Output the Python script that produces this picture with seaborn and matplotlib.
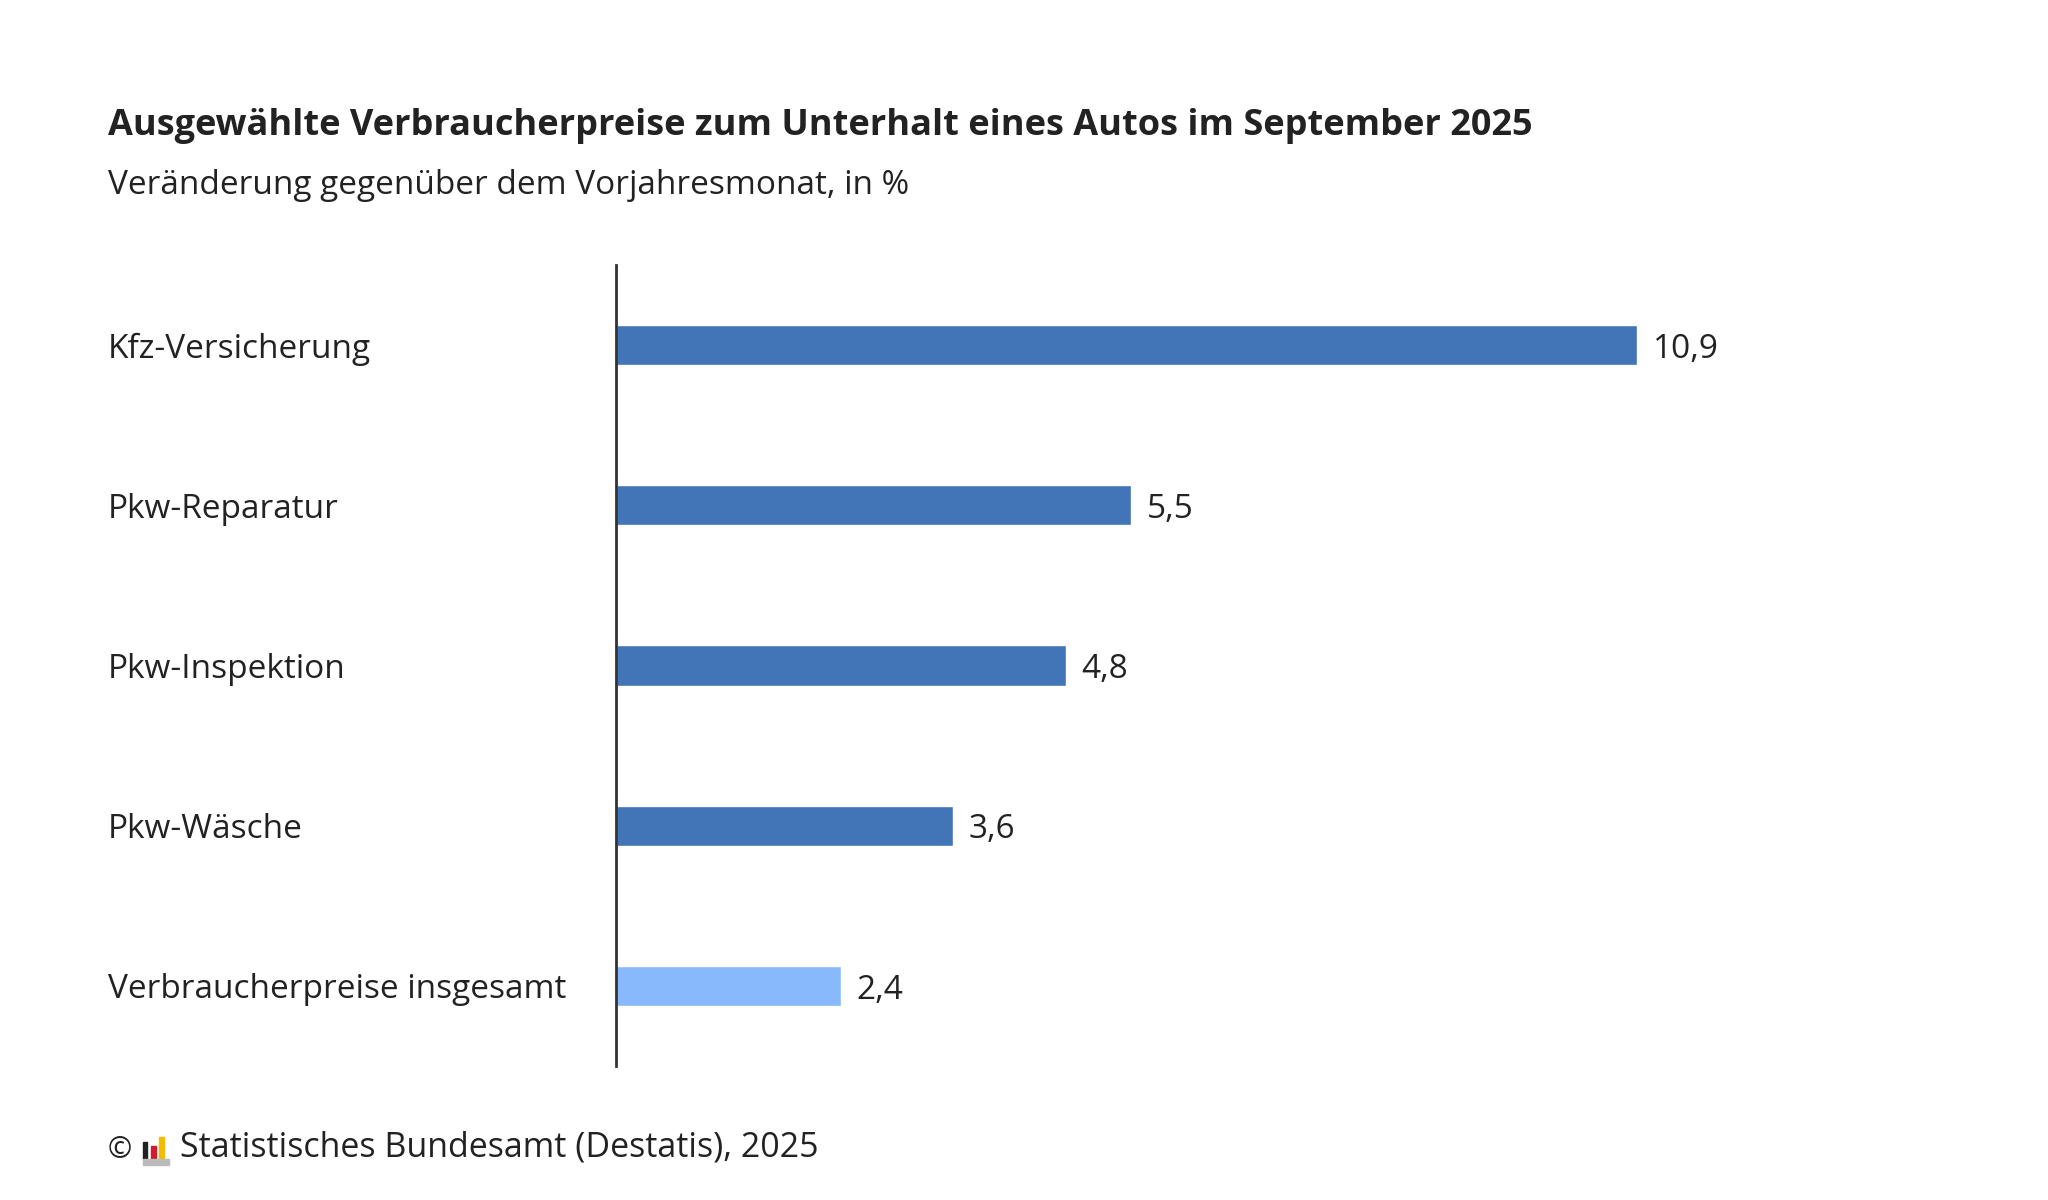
import matplotlib
matplotlib.use("Agg")
import matplotlib.pyplot as plt
from matplotlib.patches import Rectangle
import pandas as pd
import seaborn as sns

categories = ["Kfz-Versicherung", "Pkw-Reparatur", "Pkw-Inspektion", "Pkw-Wäsche",
              "Verbraucherpreise insgesamt"]
values = [10.9, 5.5, 4.8, 3.6, 2.4]
groups = ["detail", "detail", "detail", "detail", "total"]
palette = {"detail": "#4274B8", "total": "#88B9FD"}

title = "Ausgewählte Verbraucherpreise zum Unterhalt eines Autos im September 2025"
subtitle = "Veränderung gegenüber dem Vorjahresmonat, in %"
source = "Statistisches Bundesamt (Destatis), 2025"

sns.set_theme(style="white")
plt.rcParams["font.family"] = ["Open Sans", "DejaVu Sans"]
txt = "#222222"
fs = 24

df = pd.DataFrame({"cat": categories, "val": values, "grp": groups})

x0_ax = 616
fig = plt.figure(figsize=(20.48, 12), dpi=100)
ax = fig.add_axes([x0_ax / 2048, 1 - 1066 / 1200, (1960 - x0_ax) / 2048, (1066 - 265) / 1200])
sns.barplot(data=df, y="cat", x="val", hue="grp", palette=palette, orient="h",
            width=0.25, dodge=False, legend=False, ax=ax, saturation=1)

ax.set_xlim(0, (1960 - x0_ax) / 93.7)
ax.set_ylim(4.5, -0.5)
ax.set_xlabel("")
ax.set_ylabel("")
ax.set_xticks([])
for s in ["top", "right", "bottom"]:
    ax.spines[s].set_visible(False)
ax.spines["left"].set_color("#333333")
ax.spines["left"].set_linewidth(2)
ax.tick_params(axis="y", length=0, pad=(x0_ax - 108) * 0.72, labelsize=fs, labelcolor=txt)
for lab in ax.get_yticklabels():
    lab.set_horizontalalignment("left")

for cont in ax.containers:
    labels = [f"{v:.1f}".replace(".", ",") for v in cont.datavalues]
    anns = ax.bar_label(cont, labels=labels, padding=11, fontsize=fs, color=txt)
    for a in anns:
        a.xyann = (11, -3)

fig.text(108 / 2048, 1 - 126 / 1200, title, fontsize=26, fontweight="bold", color=txt,
         va="center", ha="left")
fig.text(108 / 2048, 1 - 186 / 1200, subtitle, fontsize=fs, color=txt, va="center", ha="left")

# footer with copyright sign and small logo
fig.text(108 / 2048, 1 - 1150 / 1200, "©", fontsize=21, color=txt, va="center", ha="left")
logo = [(143, 1142, 4, 17, "#222222"), (151, 1146, 5, 13, "#D01C2B"),
        (159, 1137, 5, 22, "#F2BD00"), (143, 1159, 26, 6, "#BBBBBB")]
for x0, y0, w, h, c in logo:
    fig.patches.append(Rectangle((x0 / 2048, 1 - (y0 + h) / 1200), w / 2048, h / 1200,
                                 transform=fig.transFigure, color=c))
fig.text(180 / 2048, 1 - 1148 / 1200, source, fontsize=24.5, color=txt, va="center", ha="left")

fig.savefig("out.png", dpi=100)
